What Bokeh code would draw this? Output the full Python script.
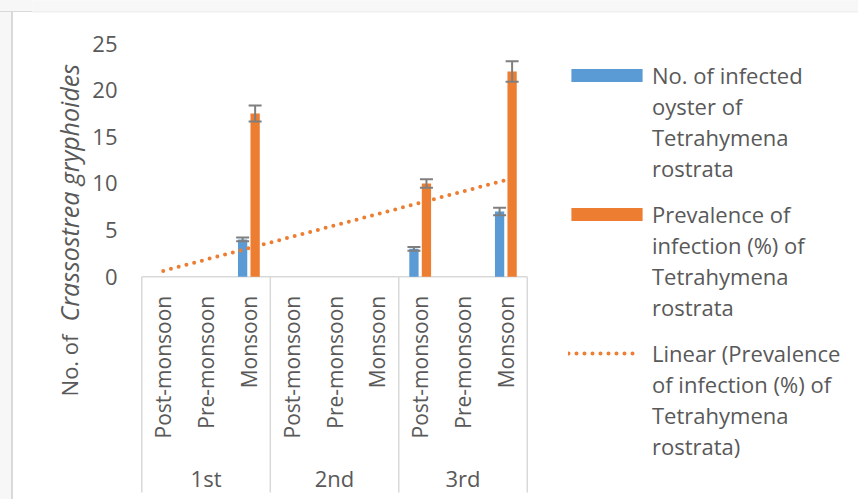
import numpy as np
from bokeh.plotting import figure
from bokeh.models import (Range1d, FixedTicker, ColumnDataSource, Whisker, TeeHead,
                          Legend, LegendItem, Label, BoxAnnotation)
from bokeh.transform import dodge
from bokeh.core.properties import value
from bokeh.embed import file_html
from bokeh.resources import INLINE

# ---------------- data ----------------
groups = ["1st", "2nd", "3rd"]
seasons = ["Post-monsoon", "Pre-monsoon", "Monsoon"]
infected = [0, 0, 4, 0, 0, 0, 3, 0, 7]
infected_err = [0, 0, 0.2, 0, 0, 0, 0.2, 0, 0.4]
prevalence = [0, 0, 17.5, 0, 0, 0, 10, 0, 22]
prevalence_err = [0, 0, 0.85, 0, 0, 0, 0.45, 0, 1.1]
y_ticks = [0, 5, 10, 15, 20, 25]
series_names = [
    ["No. of infected", "oyster of", "Tetrahymena", "rostrata"],
    ["Prevalence of", "infection (%) of", "Tetrahymena", "rostrata"],
    ["Linear (Prevalence", "of infection (%) of", "Tetrahymena", "rostrata)"],
]
y_title_plain = "No. of"
y_title_italic = "Crassostrea gryphoides"

# ---------------- layout (pixels) ----------------
W, H = 858, 499
PANEL_L = 32            # left panel that holds the y axis
CAT_X0 = 141.3          # left edge of the category axis
CAT_W = 42.83           # width of one category
Y0_PX = 276.3           # pixel row of value 0
PX_PER_UNIT = 9.332
FONT = "Open Sans"
TXT = "#595959"
BLUE = "#5B9BD5"
ORANGE = "#ED7D31"
ERR = "#7F7F7F"
LINE = "#D9D9D9"
PAGE = "#F7F7F7"

def dx(px):
    return 0.5 + (px - CAT_X0) / CAT_W

def dy(py):
    return (Y0_PX - py) / PX_PER_UNIT

n_sub = len(seasons)
ncat = len(groups) * n_sub
xs = np.arange(1, ncat + 1)

page_bg = (
    f"linear-gradient(to bottom, {PAGE} 0px, {PAGE} 11px, {LINE} 11px, {LINE} 12.5px, "
    f"transparent 12.5px), "
    f"linear-gradient(to right, {PAGE} 0px, {PAGE} 11.5px, {LINE} 11.5px, {LINE} 13px, "
    f"white 13px)"
)

p = figure(width=W, height=H, x_range=Range1d(dx(PANEL_L), dx(W)),
           y_range=Range1d(dy(H), dy(0)), x_axis_location=None,
           min_border_left=PANEL_L, min_border_right=0, min_border_top=0,
           min_border_bottom=0, toolbar_location=None, output_backend="svg",
           styles={"background": page_bg})
p.outline_line_color = None
p.xgrid.visible = False
p.ygrid.visible = False
p.background_fill_color = "white"
p.border_fill_alpha = 0

ax = p.yaxis[0]
ax.ticker = FixedTicker(ticks=y_ticks)
ax.fixed_location = dx(119)
ax.axis_line_color = None
ax.major_tick_line_color = None
ax.minor_tick_line_color = None
ax.major_tick_out = 0
ax.major_tick_in = 0
ax.major_label_standoff = 2
ax.major_label_text_font = FONT
ax.major_label_text_font_size = "22px"
ax.major_label_text_color = TXT

# chart-area border (top strip / top edge) inside the frame
p.add_layout(BoxAnnotation(left=dx(-10), right=dx(W + 10), top=dy(-10), bottom=dy(11.5),
                           fill_color=PAGE, fill_alpha=1, line_color=None,
                           level="underlay"))
p.add_layout(BoxAnnotation(left=dx(12), right=dx(W + 10), top=dy(11.5), bottom=dy(H + 10),
                           fill_color=None, line_color=LINE, line_width=1.5,
                           level="underlay"))

# category axis (text + separators)
cat_src = ColumnDataSource(dict(x=xs, y=np.zeros(ncat), text=seasons * len(groups)))
p.text(x="x", y="y", text="text", source=cat_src, angle=np.pi / 2,
       text_align="right", text_baseline="middle", y_offset=19,
       text_font=value(FONT), text_font_size="21px", text_color=TXT)
grp_x = [np.mean(xs[i * n_sub:(i + 1) * n_sub]) for i in range(len(groups))]
p.text(x=grp_x, y=[0] * len(groups), text=groups, text_align="center",
       text_baseline="middle", y_offset=201, text_font=value(FONT),
       text_font_size="22px", text_color=TXT)
bounds = np.arange(len(groups) + 1) * n_sub + 0.5
p.segment(x0=bounds, y0=[0] * len(bounds), x1=bounds, y1=[dy(492)] * len(bounds),
          line_color=LINE, line_width=1.5)
p.segment(x0=[bounds[0]], y0=[0], x1=[bounds[-1]], y1=[0], line_color=LINE, line_width=1.5)

# bars
src = ColumnDataSource(dict(x=xs, infected=infected, prevalence=prevalence))
bw, off = 0.217, 0.146
r_blue = p.vbar(x=dodge("x", -off, range=p.x_range), top="infected", width=bw,
                source=src, fill_color=BLUE, line_color=None)
r_orange = p.vbar(x=dodge("x", off, range=p.x_range), top="prevalence", width=bw,
                  source=src, fill_color=ORANGE, line_color=None)

# linear trendline (least squares on the prevalence series, like Excel)
slope, intercept = np.polyfit(xs, prevalence, 1)
tx = np.array([xs[0], xs[-1]])
r_trend = p.line(tx, slope * tx + intercept, line_color=ORANGE, line_width=4,
                 line_dash="0 8", line_cap="round")

# error bars
for vals, errs, sign in [(infected, infected_err, -1), (prevalence, prevalence_err, 1)]:
    v = np.array(vals, dtype=float)
    e = np.array(errs, dtype=float)
    m = e > 0
    es = ColumnDataSource(dict(x=xs[m] + sign * off, upper=(v + e)[m], lower=(v - e)[m]))
    p.add_layout(Whisker(base="x", upper="upper", lower="lower", source=es,
                         line_color=ERR, line_width=2, level="overlay",
                         upper_head=TeeHead(size=13, line_color=ERR, line_width=2),
                         lower_head=TeeHead(size=13, line_color=ERR, line_width=2)))

# y axis title (upright + italic parts)
p.add_layout(Label(x=dx(68), y=dy(334), text=y_title_plain, angle=np.pi / 2,
                   text_align="right", text_baseline="middle", text_font=FONT,
                   text_font_size="22px", text_color=TXT))
p.add_layout(Label(x=dx(68), y=dy(321), text=y_title_italic, angle=np.pi / 2,
                   text_align="left", text_baseline="middle", text_font=FONT,
                   text_font_size="25px", text_font_style="italic", text_color=TXT))

# legend: one block per series, one row per wrapped line (swatch on first line)
r_blank = p.vbar(x=[], top=[], width=0.1, fill_alpha=0, line_alpha=0)
ITEM_H = 31
legend_specs = [  # renderer, first-line centre (px), legend left (px), glyph width, standoff
    (r_blue, 74.5, 562, 89, 1),
    (r_orange, 213.5, 562, 89, 1),
    (r_trend, 352.7, 568, 71, 13),
]
for (rend, c_px, left_px, gw, so), lines in zip(legend_specs, series_names):
    items = [LegendItem(label=txt, renderers=[rend if i == 0 else r_blank])
             for i, txt in enumerate(lines)]
    bottom_px = c_px - ITEM_H / 2 + ITEM_H * len(lines)
    lg = Legend(items=items, location=(left_px - PANEL_L, H - bottom_px),
                orientation="vertical", glyph_width=gw, glyph_height=16,
                label_standoff=so, label_height=ITEM_H, spacing=0, padding=0,
                margin=0, border_line_color=None, background_fill_alpha=0,
                label_text_font=FONT, label_text_font_size="22px",
                label_text_color=TXT)
    p.add_layout(lg, "center")

open("out.html", "w").write(file_html(p, INLINE))
